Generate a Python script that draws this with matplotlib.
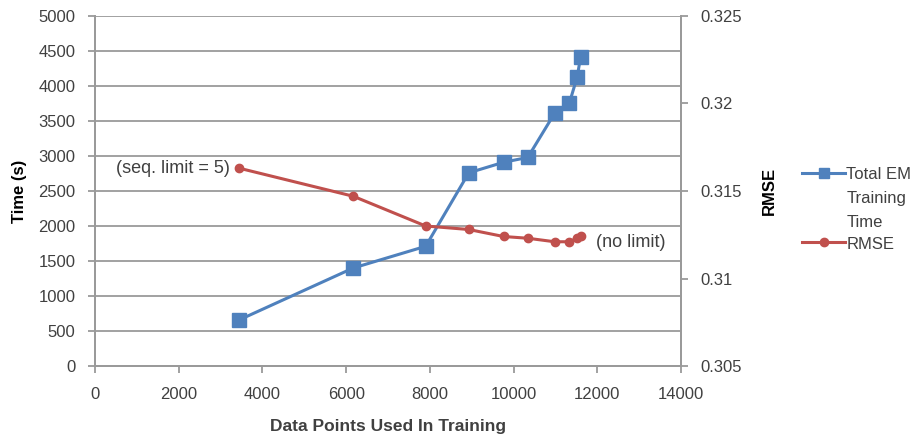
import matplotlib
matplotlib.use('Agg')
import matplotlib.pyplot as plt

# data
data_points = [3450, 6170, 7900, 8930, 9760, 10340, 10980, 11330, 11520, 11600]
train_time = [660, 1400, 1710, 2760, 2910, 2980, 3610, 3750, 4130, 4410]
rmse = [0.3163, 0.3147, 0.3130, 0.3128, 0.3124, 0.3123, 0.3121, 0.3121, 0.3123, 0.3124]

x_ticks = list(range(0, 14001, 2000))
time_ticks = list(range(0, 5001, 500))
rmse_ticks = [0.305, 0.31, 0.315, 0.32, 0.325]

plt.rcParams['font.family'] = ['Liberation Sans', 'DejaVu Sans']
blue = '#4F81BD'
red = '#C0504D'
grey = '#9A9A9A'
txt = '#404040'

fig = plt.figure(figsize=(9.24, 4.36), dpi=100)
ax = fig.add_axes([95 / 924, 70 / 436, 586 / 924, 350 / 436])
ax2 = ax.twinx()

l1, = ax.plot(data_points, train_time, color=blue, lw=2.2, marker='s', ms=10,
              label='Total EM\nTraining\nTime', zorder=3)
l2, = ax2.plot(data_points, rmse, color=red, lw=2.2, marker='o', ms=6,
               label='RMSE', zorder=3)

ax.set_xlim(0, 14000)
ax.set_ylim(0, 5000)
ax2.set_ylim(0.305, 0.325)
ax.set_xticks(x_ticks)
ax.set_yticks(time_ticks)
ax2.set_yticks(rmse_ticks)
ax2.set_yticklabels(['0.305', '0.31', '0.315', '0.32', '0.325'])

ax.grid(axis='y', color=grey, lw=1.3)
ax.set_axisbelow(True)
for a in (ax, ax2):
    for s in a.spines.values():
        s.set_color(grey)
        s.set_linewidth(1.3)
    a.tick_params(colors=grey, labelcolor=txt, labelsize=12, length=5, width=1.3, pad=9)
ax.tick_params(axis='x', pad=10)
ax.spines['top'].set_visible(False)
ax2.spines['top'].set_visible(False)

ax.set_xlabel('Data Points Used In Training', fontsize=12.5, fontweight='bold',
              color=txt, labelpad=12)
ax.set_ylabel('Time (s)', fontsize=12, fontweight='bold', color='black', labelpad=8)
ax2.set_ylabel('RMSE', fontsize=12, fontweight='bold', color='black', labelpad=14)

ax2.annotate('(seq. limit = 5)', (data_points[0], rmse[0]), xytext=(-7, 0),
             textcoords='offset points', ha='right', va='center', fontsize=13, color=txt)
ax2.annotate('(no limit)', (data_points[-1], rmse[-1]), xytext=(11, -4),
             textcoords='offset points', ha='left', va='center', fontsize=13, color=txt)

leg = fig.legend(handles=[l1, l2], loc='upper left',
                 bbox_to_anchor=(802 / 924, 1 - 167 / 436),
                 frameon=False, fontsize=12, handlelength=2.6, labelspacing=0.4,
                 handletextpad=0.05, borderpad=0, borderaxespad=0, labelcolor=txt)
for t in leg.get_texts():
    t.set_linespacing(1.75)
leg.legend_handles[0].set_markersize(7)
leg.legend_handles[1].set_markersize(6)
# put each legend handle on the first line of its label
for col in leg._legend_handle_box.get_children():
    for item in col.get_children():
        item.align = 'top'

fig.savefig('out.png', dpi=100)
